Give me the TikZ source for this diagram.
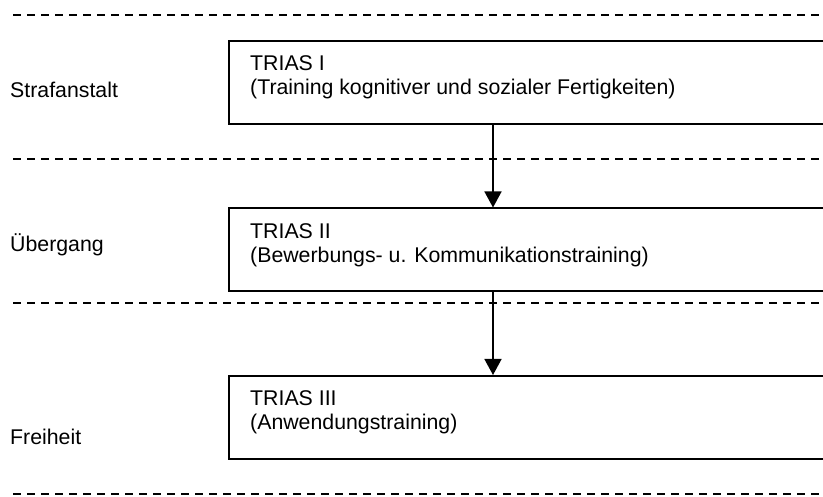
\documentclass[tikz,border=0pt]{standalone}
\usepackage{fontspec}
\setmainfont{Liberation Sans}
\usetikzlibrary{positioning}
\usetikzlibrary{arrows.meta}

\begin{document}
\begin{tikzpicture}[x=1pt,y=1pt,font=\fontsize{21.3}{24}\selectfont,
kasten/.style={draw,line width=1.8pt,rectangle,minimum width=620pt,minimum height=83pt,anchor=north west,inner sep=0pt},
inhalt/.style={align=left,inner sep=0pt},
ort/.style={anchor=base west,inner sep=0pt},
trenner/.style={line width=1.8pt,dash pattern=on 8pt off 6pt},
pfeil/.style={line width=1.5pt,-{Triangle[length=16pt,width=17pt]}}
]
\useasboundingbox (0,0) rectangle (823,-497);
\clip (0,0) rectangle (823,-497);
%-- trennlinien
\foreach \y in {15,159,303,494}
  \draw[trenner] (13,-\y) -- (823,-\y);
%--
\node[ort] (o1) at (10,-98){Strafanstalt};
\node[kasten] (k1) at (228,-40){};
\node[inhalt,below right=15pt and 22pt of k1.north west] (t1){TRIAS I\\(Training kognitiver und sozialer Fertigkeiten)};
%--
\node[ort] (o2) at (10,-252){Übergang};
\node[kasten] (k2) at (228,-207.5){};
\node[inhalt,below right=15.5pt and 22pt of k2.north west] (t2){TRIAS II\\(Bewerbungs- u. Kommunikationstraining)};
%--
\node[ort] (o3) at (10,-445){Freiheit};
\node[kasten] (k3) at (228,-375){};
\node[inhalt,below right=15.5pt and 22pt of k3.north west] (t3){TRIAS III\\(Anwendungstraining)};
%--
\coordinate (achse) at (493,0);
\draw[pfeil] (k1.south -| achse) -- (k2.north -| achse);
\draw[pfeil] (k2.south -| achse) -- (k3.north -| achse);
\end{tikzpicture}
\end{document}
